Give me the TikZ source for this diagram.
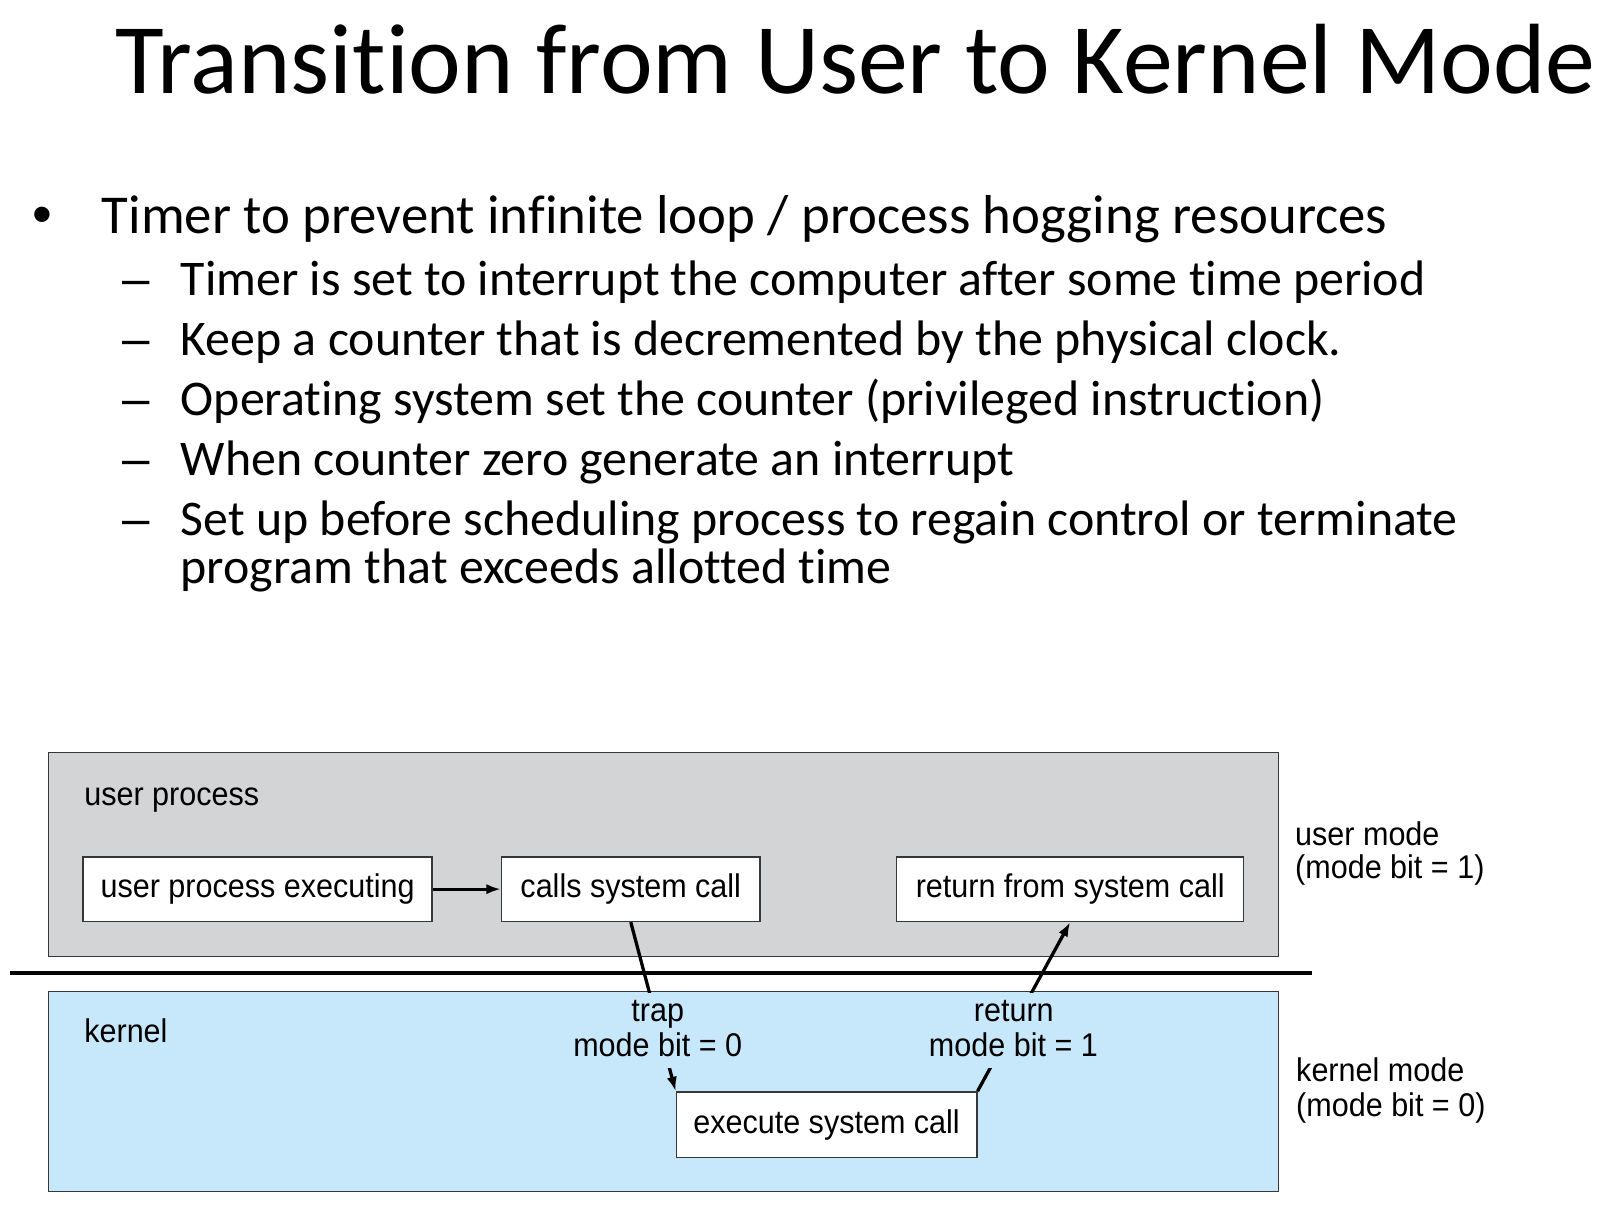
\documentclass[tikz,border=0pt]{standalone}
\usepackage{fontspec}
\setmainfont[Ligatures={NoCommon}]{Carlito}
\newfontfamily\diagfont[FakeStretch=0.93]{Liberation Sans}
\newfontfamily\markfont{Liberation Sans}
\usetikzlibrary{arrows.meta}
\definecolor{usergray}{RGB}{211,212,214}
\definecolor{kernblue}{RGB}{199,232,250}
\definecolor{boxline}{RGB}{55,55,55}
\tikzset{
  slidetitle/.style={anchor=base west, inner sep=0pt, font=\fontsize{97.3}{97}\selectfont},
  lvlone/.style={anchor=base west, inner sep=0pt, font=\fontsize{53.4}{60}\selectfont},
  lvltwo/.style={anchor=base west, inner sep=0pt, font=\fontsize{48.6}{47}\selectfont},
  mark1/.style={anchor=base west, inner sep=0pt, font=\markfont\fontsize{55}{60}\selectfont},
  mark2/.style={anchor=base west, inner sep=0pt, font=\markfont\fontsize{48}{47}\selectfont},
  region/.style={draw=boxline, line width=1.3pt},
  stepbox/.style={draw=boxline, fill=white, line width=1.3pt, inner sep=0pt, font=\diagfont\fontsize{32}{34}\selectfont},
  dtext/.style={anchor=base west, inner sep=0pt, font=\diagfont\fontsize{32}{34}\selectfont},
  flowlabel/.style={anchor=base, fill=kernblue, inner xsep=1pt, inner ysep=3.5pt, text height=24pt, text depth=8pt, font=\diagfont\fontsize{32}{34}\selectfont},
  flow/.style={line width=3.2pt, -{Latex[length=14pt,width=10pt]}},
}
\begin{document}
\begin{tikzpicture}[x=1pt,y=-1pt]
\useasboundingbox (0,0) rectangle (1568,1200);

% slide text
\node[slidetitle] (title) at (112,91) {Transition from User to Kernel Mode};
\node[mark1] (bul) at (31,228) {•};
\node[lvlone] (l1) at (99,227.4) {Timer to prevent infinite loop / process hogging resources};
\node[mark2] (d1) at (119,287.5) {–};
\node[lvltwo] (s1) at (176,287.5) {Timer is set to interrupt the computer after some time period};
\node[mark2] (d2) at (119,346) {–};
\node[lvltwo] (s2) at (176,346) {Keep a counter that is decremented by the physical clock.};
\node[mark2] (d3) at (119,404.5) {–};
\node[lvltwo] (s3) at (176,404.5) {Operating system set the counter (privileged instruction)};
\node[mark2] (d4) at (119,463) {–};
\node[lvltwo] (s4) at (176,463) {When counter zero generate an interrupt};
\node[mark2] (d5) at (119,521.5) {–};
\node[lvltwo] (s5) at (176,521.5) {Set up before scheduling process to regain control or terminate};
\node[lvltwo] (s5b) at (176,568.5) {program that exceeds allotted time};

% regions
\draw[region, fill=usergray] (47.5,733.5) rectangle (1245.7,932.3);
\draw[region, fill=kernblue] (47.5,966.4) rectangle (1245.7,1161);
\coordinate (sepL) at (10,948);
\coordinate (sepR) at (1278.7,948);
\draw[line width=3.5pt] (sepL) -- (sepR);

\node[dtext] (uplabel) at (82,785) {user process};
\node[dtext] (klabel) at (82,1016) {kernel};
\node[dtext] (um1) at (1262,823.5) {user mode};
\node[dtext] (um2) at (1262,855.8) {(mode bit = 1)};
\node[dtext] (km1) at (1263,1054) {kernel mode};
\node[dtext] (km2) at (1263,1088) {(mode bit = 0)};

% step boxes
\node[stepbox, minimum width=340pt, minimum height=63pt] (upe) at (251,866.5) {user process executing};
\node[stepbox, minimum width=252pt, minimum height=63pt] (csc) at (614.7,866.5) {calls system call};
\node[stepbox, minimum width=338pt, minimum height=63pt] (rfs) at (1042.9,866.5) {return from system call};
\node[stepbox, minimum width=293pt, minimum height=64pt] (esc) at (805.5,1096) {execute system call};

% connectors
\draw[flow] (upe.east) -- (csc.west);
\draw[flow] (csc.south) -- (esc.north west);
\draw[flow] (esc.north east) -- (rfs.south);

% connector labels (mask the lines)
\node[flowlabel] (trapa) at (641,995.6) {trap};
\node[flowlabel] (trapb) at (641,1029.7) {mode bit = 0};
\node[flowlabel] (reta) at (988,995.6) {return};
\node[flowlabel] (retb) at (987.6,1029.7) {mode bit = 1};
\end{tikzpicture}
\end{document}
